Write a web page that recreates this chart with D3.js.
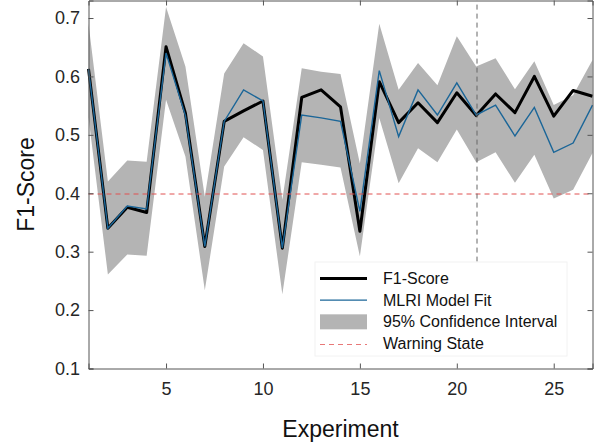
<!doctype html>
<html lang="en">
  <head>
    <meta charset="utf-8">
    <title>F1-Score per Experiment</title>
    <style>
    body{
      margin: 0;
      background: #fff;
      font-family: "Liberation Sans", Arial, sans-serif;
    }
    .tick text{
      font-size: 18px;
      fill: #262626;
      font-family: "Liberation Sans", Arial, sans-serif;
    }
    </style>
  </head>
  <body>
    <script src="https://cdn.jsdelivr.net/npm/d3@7"></script>
    <script>

    // values
    const experiments = d3.range(1, 28);
    const f1Score  = [0.613, 0.340, 0.376, 0.367, 0.651, 0.537, 0.309, 0.523, 0.541, 0.558, 0.306, 0.564, 0.577, 0.548, 0.335,
                      0.591, 0.521, 0.555, 0.521, 0.572, 0.533, 0.570, 0.538, 0.600, 0.532, 0.576, 0.566];
    const mlriFit  = [0.612, 0.340, 0.378, 0.373, 0.640, 0.533, 0.309, 0.523, 0.577, 0.558, 0.306, 0.534, 0.529, 0.523, 0.369,
                      0.610, 0.497, 0.577, 0.534, 0.589, 0.534, 0.551, 0.498, 0.547, 0.470, 0.486, 0.551];
    const ciUpper  = [0.690, 0.420, 0.456, 0.454, 0.719, 0.617, 0.394, 0.605, 0.657, 0.634, 0.389, 0.614, 0.608, 0.604, 0.451,
                      0.690, 0.577, 0.623, 0.585, 0.669, 0.617, 0.631, 0.578, 0.626, 0.551, 0.568, 0.628];
    const ciLower  = [0.530, 0.261, 0.295, 0.293, 0.560, 0.463, 0.234, 0.446, 0.496, 0.474, 0.227, 0.453, 0.449, 0.444, 0.292,
                      0.529, 0.417, 0.477, 0.453, 0.509, 0.453, 0.470, 0.418, 0.466, 0.391, 0.406, 0.469];
    const warningLevel = 0.4;
    const changePoint  = 21;
    const changeSpan   = [0.283, 0.73];
    const xTicks = [5, 10, 15, 20, 25];
    const yTicks = [0.1, 0.2, 0.3, 0.4, 0.5, 0.6, 0.7];
    const legendLabels = ["F1-Score", "MLRI Model Fit", "95% Confidence Interval", "Warning State"];

    const W = 602, H = 446;
    const margin = {top: 0.5, right: 9.5, bottom: 77.5, left: 88.5};
    const width  = W - margin.left - margin.right,
          height = H - margin.top - margin.bottom;

    const svg = d3.select('body')
      .append('svg')
      .attr('width', W)
      .attr('height', H);

    const chart = svg.append('g')
      .attr('transform', `translate(${margin.left},${margin.top})`);

    const x = d3.scaleLinear().domain([1, 27]).range([0, width]);
    const y = d3.scaleLinear().domain([0.1, 0.73]).range([height, 0]);

    const rows = experiments.map((e, i) => ({
      e: e, f1: f1Score[i], fit: mlriFit[i], lo: ciLower[i], hi: ciUpper[i]
    }));

    // confidence band
    chart.append('path')
      .datum(rows)
      .attr('d', d3.area().x(d => x(d.e)).y0(d => y(d.lo)).y1(d => y(d.hi)))
      .attr('fill', '#b4b4b4');

    // F1 score
    chart.append('path')
      .datum(rows)
      .attr('d', d3.line().x(d => x(d.e)).y(d => y(d.f1)))
      .attr('fill', 'none')
      .attr('stroke', '#000')
      .attr('stroke-width', 3)
      .attr('stroke-linejoin', 'round');

    // model fit
    chart.append('path')
      .datum(rows)
      .attr('d', d3.line().x(d => x(d.e)).y(d => y(d.fit)))
      .attr('fill', 'none')
      .attr('stroke', '#1b6698')
      .attr('stroke-width', 1.4);

    // warning state
    const wy = Math.round(y(warningLevel)) + 0.5;
    chart.append('line')
      .attr('x1', 0).attr('x2', width)
      .attr('y1', wy).attr('y2', wy)
      .attr('stroke', '#e05050')
      .attr('stroke-width', 1)
      .attr('stroke-dasharray', '5 4');

    // change point
    const cx = Math.round(x(changePoint)) + 0.5;
    chart.append('line')
      .attr('x1', cx).attr('x2', cx)
      .attr('y1', y(changeSpan[0])).attr('y2', y(changeSpan[1]))
      .attr('stroke', '#666')
      .attr('stroke-width', 1)
      .attr('stroke-dasharray', '5 4');

    // axes, MATLAB style: box on, ticks pointing in
    const axisColor = '#555';

    chart.append('g')
      .attr('transform', `translate(0,${height})`)
      .call(d3.axisBottom(x).tickValues(xTicks).tickSize(-5).tickPadding(14).tickFormat(d3.format('d')));
    chart.append('g')
      .call(d3.axisTop(x).tickValues(xTicks).tickSize(-5).tickFormat(''));
    chart.append('g')
      .call(d3.axisLeft(y).tickValues(yTicks).tickSize(-5).tickPadding(8.5).tickFormat(d3.format('.1f')));
    chart.append('g')
      .attr('transform', `translate(${width},0)`)
      .call(d3.axisRight(y).tickValues(yTicks).tickSize(-5).tickFormat(''));

    chart.selectAll('.domain').attr('stroke', axisColor);
    chart.selectAll('.tick line').attr('stroke', axisColor);

    // legend
    const legend = chart.append('g')
      .attr('transform', `translate(${315 - margin.left},${262 - margin.top})`);

    legend.append('rect')
      .attr('width', 252)
      .attr('height', 94)
      .attr('fill', '#fff')
      .attr('stroke', '#f2f2f2');

    const rowY = d3.scalePoint().domain(legendLabels).range([16.5, 81.5]);

    legend.append('line')
      .attr('x1', 5).attr('x2', 52)
      .attr('y1', rowY(legendLabels[0])).attr('y2', rowY(legendLabels[0]))
      .attr('stroke', '#000').attr('stroke-width', 3);
    legend.append('line')
      .attr('x1', 5).attr('x2', 52)
      .attr('y1', rowY(legendLabels[1])).attr('y2', rowY(legendLabels[1]))
      .attr('stroke', '#1b6698').attr('stroke-width', 1.4);
    legend.append('rect')
      .attr('x', 5).attr('width', 47)
      .attr('y', rowY(legendLabels[2]) - 7.5).attr('height', 15)
      .attr('fill', '#b4b4b4');
    legend.append('line')
      .attr('x1', 5).attr('x2', 52)
      .attr('y1', Math.round(rowY(legendLabels[3])) + 0.5).attr('y2', Math.round(rowY(legendLabels[3])) + 0.5)
      .attr('stroke', '#e87878').attr('stroke-width', 1)
      .attr('stroke-dasharray', '5 4');

    legend.selectAll('text.label')
      .data(legendLabels)
      .join('text')
      .attr('class', 'label')
      .attr('x', 68)
      .attr('y', d => rowY(d))
      .attr('dy', '0.35em')
      .style('font-size', '16px')
      .style('fill', '#111')
      .text(d => d);

    // axis titles
    svg.append('text')
      .attr('x', margin.left + width / 2)
      .attr('y', 437)
      .attr('text-anchor', 'middle')
      .style('font-size', '23px')
      .style('fill', '#111')
      .text('Experiment');

    svg.append('text')
      .attr('transform', `translate(34,${margin.top + height / 2}) rotate(-90)`)
      .attr('text-anchor', 'middle')
      .style('font-size', '23px')
      .style('fill', '#111')
      .text('F1-Score');

    </script>
  </body>
</html>
